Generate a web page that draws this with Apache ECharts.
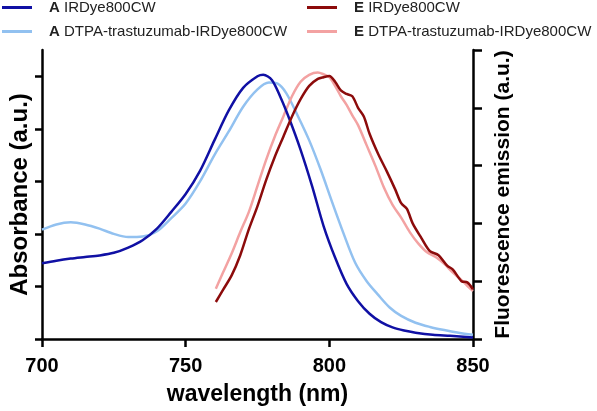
<!DOCTYPE html>
<html><head><meta charset="utf-8">
<script src="https://cdn.jsdelivr.net/npm/echarts@6/dist/echarts.min.js"></script>
<style>html,body{margin:0;padding:0;background:#fff}#c{width:597px;height:411px}</style>
</head><body><div id="c"></div>
<script>
// Absorbance, A IRDye800CW
const absDyeWl  = [700,705,710,715,720,725,730,735,740,745,750,755,760,765,770,775,777,780,783,786,790,794,798,802,806,810,814,818,822,826,830,836,842,850];
const absDyeVal = [1.44,1.49,1.53,1.56,1.59,1.64,1.74,1.88,2.1,2.42,2.76,3.2,3.78,4.35,4.78,5.0,5.03,4.93,4.6,4.2,3.6,2.91,2.15,1.55,1.05,0.72,0.48,0.32,0.22,0.16,0.12,0.08,0.06,0.03];
// Absorbance, A DTPA-trastuzumab-IRDye800CW
const absConjWl  = [700,705,710,715,720,725,730,735,740,745,750,755,760,765,770,775,779,782,785,789,793,797,801,805,809,813,817,821,825,830,835,840,845,850];
const absConjVal = [2.08,2.18,2.22,2.18,2.1,2.0,1.94,1.95,2.05,2.3,2.58,3.0,3.5,3.95,4.42,4.75,4.88,4.86,4.68,4.25,3.78,3.22,2.6,2.0,1.45,1.1,0.84,0.6,0.44,0.31,0.23,0.17,0.12,0.08];
// Emission, E IRDye800CW
const emDyeWl  = [760.5,763,766,769,772,775,778,781,784,787,790,793,796,798,800,802,804,806,808,810,812,814,817,820,823,825,827,829,832,835,838,841,843,846,848,850];
const emDyeVal = [0.64,0.85,1.1,1.45,1.9,2.3,2.75,3.15,3.5,3.85,4.15,4.38,4.5,4.53,4.55,4.45,4.3,4.24,4.2,4.0,3.85,3.55,3.2,2.9,2.58,2.35,2.25,2.0,1.75,1.52,1.45,1.27,1.2,1.0,0.98,0.86];
// Emission, E DTPA-trastuzumab-IRDye800CW
const emConjWl  = [760.5,763,766,769,772,775,778,781,784,787,790,793,796,798,800,802,804,806,808,810,813,816,819,822,825,828,831,834,837,840,843,846,848,850];
const emConjVal = [0.87,1.15,1.48,1.85,2.2,2.65,3.1,3.5,3.85,4.2,4.45,4.57,4.61,4.58,4.53,4.38,4.2,4.05,3.87,3.7,3.35,3.0,2.62,2.32,2.1,1.85,1.65,1.5,1.42,1.3,1.15,1.02,0.92,0.83];

const xTicks = [700,750,800,850];
const absTicks = [0,1,2,3,4,5];
const names = ['A IRDye800CW','A DTPA-trastuzumab-IRDye800CW','E IRDye800CW','E DTPA-trastuzumab-IRDye800CW'];
const colors = ['#1010a4','#92c1f0','#8c0b0b','#f3a2a2'];

const pairs = (w,v)=>w.map((x,i)=>[x,v[i]]);
const FONT = 'Liberation Sans, Arial, sans-serif';
const chart = echarts.init(document.getElementById('c'));
const legendCommon = {
  orient:'vertical', itemWidth:30, itemHeight:3, itemGap:9, icon:'rect', padding:0,
  textStyle:{fontFamily:FONT,fontSize:15,color:'#222',padding:[0,0,0,12],
    rich:{b:{fontWeight:'bold',fontSize:15,fontFamily:FONT,color:'#222'}}},
  formatter: n => '{b|'+n.charAt(0)+'} '+n.slice(2)
};
const axisLine = {show:true,lineStyle:{color:'#000',width:2.5}};
chart.setOption({
  animation:false,
  textStyle:{fontFamily:FONT},
  legend:[
    Object.assign({left:2,top:0,data:[names[0],names[1]]},legendCommon),
    Object.assign({left:307,top:0,data:[names[2],names[3]]},legendCommon)
  ],
  grid:{left:37,right:124,top:50,bottom:72},
  xAxis:{type:'value',min:700,max:850,interval:50,
    name:'wavelength (nm)',nameLocation:'middle',nameGap:44,
    nameTextStyle:{fontSize:23,fontWeight:'bold',color:'#000',fontFamily:FONT},
    axisLine:axisLine,axisTick:{length:8,lineStyle:{width:2.5,color:'#000'}},
    axisLabel:{fontSize:20,fontWeight:'bold',color:'#000',margin:17,fontFamily:FONT,customValues:xTicks},
    splitLine:{show:false}},
  yAxis:[
    {type:'value',min:0,max:5.5,interval:1,position:'left',
     name:'Absorbance (a.u.)',nameLocation:'middle',nameGap:10,
     nameTextStyle:{fontSize:24,fontWeight:'bold',color:'#000',fontFamily:FONT},
     axisLine:axisLine,axisTick:{length:7,lineStyle:{width:2.5,color:'#000'},customValues:absTicks},
     axisLabel:{show:false},splitLine:{show:false}},
    {type:'value',min:0,max:5,interval:1,position:'right',
     name:'Fluorescence emission (a.u.)',nameLocation:'middle',nameGap:20,
     nameTextStyle:{fontSize:21,fontWeight:'bold',color:'#000',fontFamily:FONT},
     axisLine:axisLine,axisTick:{length:9,lineStyle:{width:2.5,color:'#000'}},
     axisLabel:{show:false},splitLine:{show:false}}
  ],
  series:[
    {name:names[0],type:'line',yAxisIndex:0,data:pairs(absDyeWl,absDyeVal)},
    {name:names[1],type:'line',yAxisIndex:0,data:pairs(absConjWl,absConjVal)},
    {name:names[2],type:'line',yAxisIndex:1,data:pairs(emDyeWl,emDyeVal)},
    {name:names[3],type:'line',yAxisIndex:1,data:pairs(emConjWl,emConjVal)}
  ].map((s,i)=>Object.assign(s,{showSymbol:false,symbol:'none',smooth:0.3,z:[3,2,3,2][i],
     color:colors[i],lineStyle:{width:2.5,color:colors[i]}}))
});
</script></body></html>
